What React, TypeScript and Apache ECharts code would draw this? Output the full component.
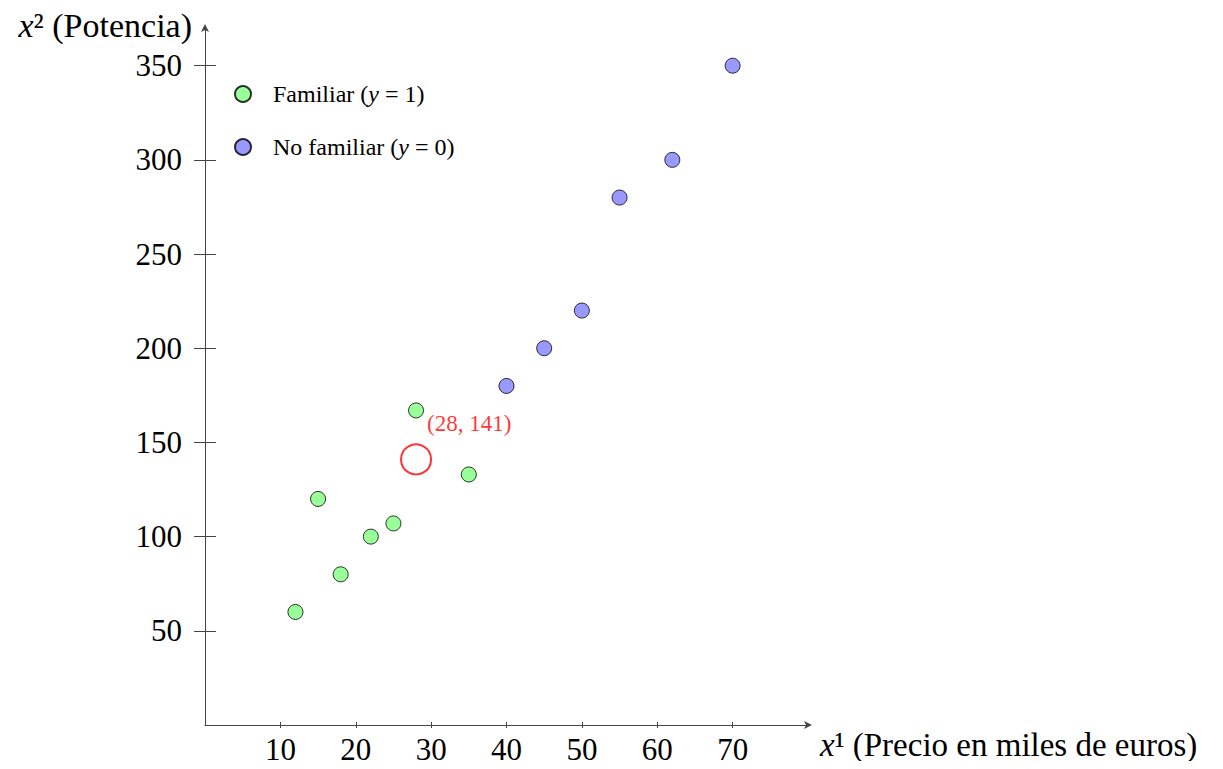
import React, { useEffect, useRef } from "react";
import * as echarts from "echarts";

const familiarX = [12, 15, 18, 22, 25, 28, 35];
const familiarY = [60, 120, 80, 100, 107, 167, 133];
const noFamiliarX = [40, 45, 50, 55, 62, 70];
const noFamiliarY = [180, 200, 220, 280, 300, 350];
const queryPoint = [28, 141];
const xTicks = [10, 20, 30, 40, 50, 60, 70];
const yTicks = [50, 100, 150, 200, 250, 300, 350];

const FONT = "'Liberation Serif', 'DejaVu Serif', serif";

export default function App() {
  const ref = useRef<HTMLDivElement>(null);
  useEffect(() => {
    if (!ref.current) return;
    const chart = echarts.init(ref.current, undefined, { renderer: "svg" });
    const axisColor = "#444";
    const xBase = {
      type: "value",
      min: 0,
      max: 80,
      splitLine: { show: false },
    };
    const yBase = {
      type: "value",
      min: 0,
      max: 370,
      splitLine: { show: false },
    };
    const legendRich = {
      n: { fontFamily: FONT, fontSize: 24, color: "#000", lineHeight: 24 },
      i: { fontFamily: FONT, fontSize: 24, fontStyle: "italic", color: "#000", lineHeight: 24 },
    };
    const makeNameRich = (size: number) => ({
      i: { fontFamily: FONT, fontSize: size, fontStyle: "italic", color: "#000", lineHeight: size },
      s: { fontFamily: FONT, fontSize: size, color: "#000", lineHeight: size },
      n: { fontFamily: FONT, fontSize: size, color: "#000", lineHeight: size },
    });
    chart.setOption({
      animation: false,
      backgroundColor: "#fff",
      grid: { left: 205, right: 415, top: 28, bottom: 44, containLabel: false },
      legend: {
        orient: "vertical",
        left: 229,
        top: 77,
        itemWidth: 16,
        itemHeight: 16,
        itemGap: 29,
        icon: "circle",
        data: ["Familiar", "No familiar"],
        formatter: (name: string) =>
          name === "Familiar"
            ? "{n|Familiar (}{i|y}{n| = 1)}"
            : "{n|No familiar (}{i|y}{n| = 0)}",
        textStyle: { padding: [0, 0, 0, 17], rich: legendRich },
      },
      xAxis: [
        {
          ...xBase,
          name: "{i|x}{s|¹}{n| (Precio en miles de euros)}",
          nameLocation: "end",
          nameGap: 12,
          nameTextStyle: {
            align: "left",
            verticalAlign: "middle",
            padding: [40, 0, 0, 0],
            rich: makeNameRich(33),
          },
          axisLine: {
            show: true,
            lineStyle: { color: axisColor, width: 1 },
            symbol: ["none", "arrow"],
            symbolSize: [6, 8],
            symbolOffset: [0, 4],
          },
          axisTick: {
            show: true,
            customValues: xTicks,
            length: 3,
            lineStyle: { color: axisColor },
          },
          axisLabel: {
            customValues: xTicks,
            margin: 9,
            fontFamily: FONT,
            fontSize: 31,
            color: "#000",
          },
        },
        {
          ...xBase,
          position: "bottom",
          axisLine: { show: false },
          axisTick: {
            show: true,
            inside: true,
            customValues: xTicks,
            length: 3,
            lineStyle: { color: axisColor },
          },
          axisLabel: { show: false },
        },
      ],
      yAxis: [
        {
          ...yBase,
          name: "{i|x}{s|²}{n| (Potencia)}",
          nameLocation: "end",
          nameGap: 3,
          nameTextStyle: {
            align: "right",
            verticalAlign: "middle",
            padding: [0, 13, 0, 0],
            rich: makeNameRich(34),
          },
          axisLine: {
            show: true,
            lineStyle: { color: axisColor, width: 1 },
            symbol: ["none", "arrow"],
            symbolSize: [6, 8],
            symbolOffset: [0, 4],
          },
          axisTick: {
            show: true,
            customValues: yTicks,
            length: 11,
            lineStyle: { color: axisColor },
          },
          axisLabel: {
            customValues: yTicks,
            margin: 23,
            fontFamily: FONT,
            fontSize: 31,
            color: "#000",
          },
        },
        {
          ...yBase,
          position: "left",
          axisLine: { show: false },
          axisTick: {
            show: true,
            inside: true,
            customValues: yTicks,
            length: 11,
            lineStyle: { color: axisColor },
          },
          axisLabel: { show: false },
        },
      ],
      series: [
        {
          name: "Familiar",
          type: "scatter",
          symbol: "circle",
          symbolSize: 15,
          itemStyle: { color: "#80ff80", borderColor: "#000", borderWidth: 1 },
          data: familiarX.map((x, i) => [x, familiarY[i]]),
          z: 3,
        },
        {
          name: "No familiar",
          type: "scatter",
          symbol: "circle",
          symbolSize: 15,
          itemStyle: { color: "#8080ff", borderColor: "#000", borderWidth: 1 },
          data: noFamiliarX.map((x, i) => [x, noFamiliarY[i]]),
          z: 3,
        },
        {
          name: "Consulta",
          type: "scatter",
          symbol: "circle",
          symbolSize: 30,
          itemStyle: { color: "transparent", borderColor: "#ff0000", borderWidth: 2 },
          label: {
            show: true,
            position: [27, -20],
            align: "left",
            verticalAlign: "middle",
            formatter: "(" + queryPoint[0] + ", " + queryPoint[1] + ")",
            fontFamily: FONT,
            fontSize: 23,
            color: "#ff0000",
          },
          data: [queryPoint],
          z: 4,
        },
      ],
    });
    return () => chart.dispose();
  }, []);
  return <div ref={ref} style={{ width: 1223, height: 769, margin: -8 }} />;
}
